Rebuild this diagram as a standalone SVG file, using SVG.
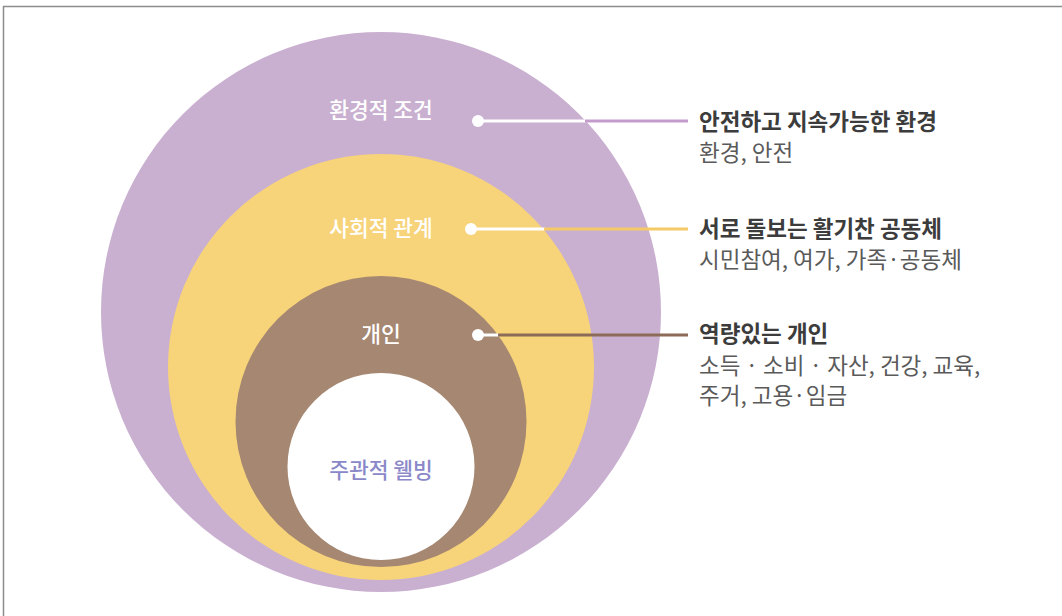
<svg xmlns="http://www.w3.org/2000/svg" width="1062" height="616" viewBox="0 0 1062 616">
<style>
.in{font-family:"Noto Sans CJK KR","Noto Sans",sans-serif;font-size:21.5px;fill:#fff;text-anchor:middle;font-weight:500}
.h{font-family:"Noto Sans CJK KR","Noto Sans",sans-serif;font-size:22.5px;fill:#3c3c3c;font-weight:700}
.s{font-family:"Noto Sans CJK KR","Noto Sans",sans-serif;font-size:22.5px;fill:#5a5a5a;font-weight:400}
.w{stroke:#fff;stroke-width:3}
</style>
<rect width="1062" height="616" fill="#fff"/>
<path d="M3.5 616V6.5H1062" fill="none" stroke="#8c8c8c" stroke-width="1.5"/>
<g id="env">
<circle cx="381" cy="312" r="280" fill="#c9b0d0"/>
<text class="in" x="381" y="118">환경적 조건</text>
</g>
<g id="social">
<circle cx="381" cy="367" r="213" fill="#f7d37a"/>
<text class="in" x="381" y="236">사회적 관계</text>
</g>
<g id="individual">
<circle cx="381" cy="421.5" r="145.5" fill="#a58772"/>
<text class="in" x="381" y="342">개인</text>
</g>
<g id="wellbeing">
<circle cx="381" cy="466.5" r="93.5" fill="#fff"/>
<text class="in" x="381" y="478" style="fill:#8b88c9">주관적 웰빙</text>
</g>
<g id="connectors">
<line x1="478" y1="121" x2="586" y2="121" class="w"/>
<line x1="585" y1="121" x2="688" y2="121" stroke="#c49ccb" stroke-width="3"/>
<circle cx="478" cy="121" r="6" fill="#fff"/>
<line x1="471" y1="229" x2="545" y2="229" class="w"/>
<line x1="544" y1="229" x2="688" y2="229" stroke="#f5c966" stroke-width="3"/>
<circle cx="471" cy="229" r="6" fill="#fff"/>
<line x1="478" y1="335" x2="499" y2="335" class="w"/>
<line x1="498" y1="335" x2="688" y2="335" stroke="#8d6b59" stroke-width="3"/>
<circle cx="478" cy="335" r="6" fill="#fff"/>
</g>
<g id="label-env">
<text class="h" x="699" y="130">안전하고 지속가능한 환경</text>
<text class="s" x="699" y="161">환경, 안전</text>
</g>
<g id="label-social">
<text class="h" x="699" y="237">서로 돌보는 활기찬 공동체</text>
<text class="s" x="699" y="268">시민참여, 여가, 가족·공동체</text>
</g>
<g id="label-individual">
<text class="h" x="699" y="342">역량있는 개인</text>
<text class="s" x="699" y="374">소득 · 소비 · 자산, 건강, 교육,</text>
<text class="s" x="699" y="404">주거, 고용·임금</text>
</g>
</svg>
